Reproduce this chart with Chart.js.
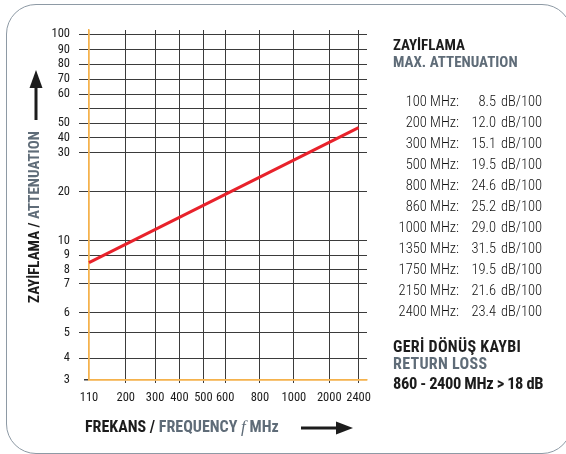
<!DOCTYPE html>
<html>
<head>
<meta charset="utf-8">
<script src="https://cdn.jsdelivr.net/npm/chart.js@4"></script>
<style>
  html, body { margin: 0; padding: 0; background: #fff; }
  body { width: 566px; height: 454px; position: relative; overflow: hidden;
         font-family: "Roboto Condensed", "DejaVu Sans Condensed", sans-serif; color: #1c1c1c; }
  .frame { position: absolute; left: 6px; top: 4px; width: 566px; height: 450px;
           border: 1.5px solid #8e9aa5; border-radius: 30px; box-sizing: border-box; }
  #wrap { position: absolute; left: 0; top: 0; width: 566px; height: 454px; }
  .t { position: absolute; white-space: nowrap; font-weight: bold; font-size: 15px; line-height: 17px; }
  .lo { font-size: 16px; letter-spacing: 0.3px; }
  .gray { color: #5f6c78; }
  .row { position: absolute; left: 380px; height: 21px; line-height: 21px; font-size: 14.5px; font-weight: 300;
         display: flex; color: #111; }
  .row .f { width: 79px; text-align: right; }
  .row .v { width: 37px; text-align: right; }
  .row .u { margin-left: 5px; }
</style>
</head>
<body>
<div class="frame"></div>
<div id="wrap"><canvas id="chart" width="566" height="454"></canvas></div>
<div class="t" style="left:393px; top:37px;">ZAYİFLAMA</div>
<div class="t gray" style="left:393px; top:54px;">MAX. ATTENUATION</div>
<div id="rows"></div>
<div class="t lo" style="left:393px; top:338px;">GERİ DÖNÜŞ KAYBI</div>
<div class="t lo gray" style="left:393px; top:355px;">RETURN LOSS</div>
<div class="t" style="left:393px; top:375px; font-size:16.5px; letter-spacing:-0.4px;">860 - 2400 MHz &gt; 18 dB</div>
<script>
// attenuation curve (MHz, dB/100m)
const frequencies = [110, 2400];
const attenuation = [8.5, 47];

// axis ticks
const xTicks = [110, 200, 300, 400, 500, 600, 800, 1000, 2000, 2400];
const yTicks = [3, 4, 5, 6, 7, 8, 9, 10, 20, 30, 40, 50, 55, 60, 70, 80, 90, 100];
const yTickLabels = ["3", "4", "5", "6", "7", "8", "9", "10", "20", "30", "40", "50", "", "60", "70", "80", "90", "100"];

// spec table on the right
const specFreq = [100, 200, 300, 500, 800, 860, 1000, 1350, 1750, 2150, 2400];
const specAtten = [8.5, 12.0, 15.1, 19.5, 24.6, 25.2, 29.0, 31.5, 19.5, 21.6, 23.4];

// where each grid line sits along the axis (the printed grid is not a true log grid)
const xFractions = [0, 0.1322, 0.2377, 0.3252, 0.4116, 0.4897, 0.6147, 0.7371, 0.8642, 0.9698];
const yFractions = [0, 0.062, 0.1351, 0.1923, 0.2743, 0.3143, 0.3563, 0.398, 0.538, 0.6494,
                    0.6923, 0.7334, 0.7751, 0.8171, 0.859, 0.902, 0.9429, 0.9877];

const ORANGE = "#f5b24c";
const GRID = "#3b3b3b";
const GRAY = "#5f6c78";
const FONT = "Roboto Condensed";

// build the table rows
const rows = document.getElementById("rows");
specFreq.forEach((f, i) => {
  const r = document.createElement("div");
  r.className = "row";
  r.style.top = (91 + i * 21) + "px";
  r.innerHTML = '<span class="f">' + f + ' MHz:</span><span class="v">' + specAtten[i].toFixed(1) +
                '</span><span class="u">dB/100</span>';
  rows.appendChild(r);
});

// piecewise scale: value -> position along axis through given stops
class StopScale extends Chart.Scale {
  determineDataLimits() {
    const v = this.options.stops;
    this.min = v[0];
    this.max = v[v.length - 1];
  }
  buildTicks() {
    return this.options.stops.map(v => ({ value: v }));
  }
  getLabelForValue(v) { return String(v); }
  _toDecimal(v) {
    const s = this.options.stops, f = this.options.fractions;
    let i = 1;
    while (i < s.length - 1 && v > s[i]) i++;
    return f[i - 1] + (v - s[i - 1]) / (s[i] - s[i - 1]) * (f[i] - f[i - 1]);
  }
  getPixelForValue(v) { return this.getPixelForDecimal(this._toDecimal(v)); }
  getValueForPixel(p) {
    const d = this.getDecimalForPixel(p);
    const s = this.options.stops, f = this.options.fractions;
    let i = 1;
    while (i < f.length - 1 && d > f[i]) i++;
    return s[i - 1] + (d - f[i - 1]) / (f[i] - f[i - 1]) * (s[i] - s[i - 1]);
  }
}
StopScale.id = "stops";
StopScale.defaults = {};
Chart.register(StopScale);

function drawParts(ctx, parts, x, y) {
  parts.forEach(p => {
    ctx.font = p.font;
    ctx.fillStyle = p.color;
    ctx.fillText(p.text, x, y);
    x += ctx.measureText(p.text).width;
  });
}
function partsWidth(ctx, parts) {
  return parts.reduce((w, p) => { ctx.font = p.font; return w + ctx.measureText(p.text).width; }, 0);
}

const axisTitles = {
  id: "axisTitles",
  afterDraw(chart) {
    const { ctx, chartArea } = chart;
    const bold = 'bold 15px "' + FONT + '"';
    ctx.save();
    ctx.textBaseline = "middle";
    ctx.textAlign = "left";

    // y title, rotated
    const yParts = [
      { text: "ZAYİFLAMA / ", font: bold, color: "#1c1c1c" },
      { text: "ATTENUATION", font: bold, color: GRAY }
    ];
    const yw = partsWidth(ctx, yParts);
    ctx.save();
    ctx.translate(chartArea.left - 54, chartArea.top + 187 + yw / 2);
    ctx.rotate(-Math.PI / 2);
    drawParts(ctx, yParts, 0, 0);
    ctx.restore();

    // y arrow
    const ax = chartArea.left - 53;
    ctx.fillStyle = "#1c1c1c";
    ctx.fillRect(ax - 1.5, chartArea.top + 56, 3, 34);
    ctx.beginPath();
    ctx.moveTo(ax, chartArea.top + 40);
    ctx.lineTo(ax - 6.5, chartArea.top + 58);
    ctx.lineTo(ax + 6.5, chartArea.top + 58);
    ctx.closePath();
    ctx.fill();

    // x title
    const big = 'bold 16px "' + FONT + '"';
    const xParts = [
      { text: "FREKANS / ", font: big, color: "#1c1c1c" },
      { text: "FREQUENCY ", font: big, color: GRAY },
      { text: "f", font: 'italic 17px "Liberation Serif", "DejaVu Serif", serif', color: GRAY },
      { text: " MHz", font: big, color: GRAY }
    ];
    const ty = chartArea.bottom + 48;
    drawParts(ctx, xParts, chartArea.left - 4, ty);

    // x arrow
    ctx.fillStyle = "#1c1c1c";
    ctx.fillRect(301, ty - 1.5, 38, 3);
    ctx.beginPath();
    ctx.moveTo(353, ty);
    ctx.lineTo(336, ty - 6.5);
    ctx.lineTo(336, ty + 6.5);
    ctx.closePath();
    ctx.fill();
    ctx.restore();
  }
};

new Chart(document.getElementById("chart"), {
  type: "line",
  data: {
    datasets: [{
      data: frequencies.map((f, i) => ({ x: f, y: attenuation[i] })),
      borderColor: "#e8222b",
      borderWidth: 3,
      pointRadius: 0,
      fill: false
    }]
  },
  options: {
    responsive: false,
    animation: false,
    events: [],
    layout: { padding: { top: 30, right: 199, left: 0, bottom: 0 } },
    plugins: { legend: { display: false }, tooltip: { enabled: false } },
    scales: {
      x: {
        type: "stops",
        position: "bottom",
        stops: xTicks,
        fractions: xFractions,
        afterFit: s => { s.height = 74; },
        border: { display: true, color: ORANGE, width: 1.5 },
        grid: {
          tickLength: 3,
          color: c => c.index === 0 ? ORANGE : GRID,
          tickColor: c => c.index === 0 ? "rgba(0,0,0,0)" : GRID,
          lineWidth: c => c.index === 0 ? 1.5 : 1
        },
        ticks: {
          autoSkip: false, maxRotation: 0, minRotation: 0, padding: 7,
          color: "#1c1c1c",
          font: { family: FONT, size: 12.5 }
        }
      },
      y: {
        type: "stops",
        position: "left",
        stops: yTicks,
        fractions: yFractions,
        afterFit: s => { s.width = 89; },
        border: { display: true, color: ORANGE, width: 1.5 },
        grid: {
          tickLength: 10,
          color: c => c.index === 0 ? ORANGE : GRID,
          tickColor: GRID,
          tickBorderDash: c => c.index === 0 ? [5, 5] : [],
          tickBorderDashOffset: c => c.index === 0 ? 5 : 0,
          lineWidth: c => c.index === 0 ? 1.5 : 1
        },
        ticks: {
          autoSkip: false, padding: 9,
          color: "#1c1c1c",
          font: { family: FONT, size: 12.5 },
          callback: (v, i) => yTickLabels[i]
        }
      }
    }
  },
  plugins: [axisTitles]
});
</script>
</body>
</html>
